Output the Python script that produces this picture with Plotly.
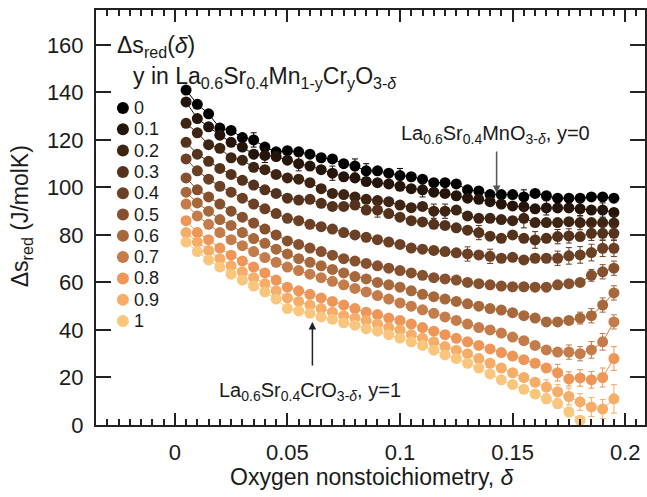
import plotly.graph_objects as go

# ---------------- data ----------------
delta = [0.005, 0.010, 0.015, 0.020, 0.025, 0.030, 0.035, 0.040, 0.045, 0.050,
         0.055, 0.060, 0.065, 0.070, 0.075, 0.080, 0.085, 0.090, 0.095, 0.100,
         0.105, 0.110, 0.115, 0.120, 0.125, 0.130, 0.135, 0.140, 0.145, 0.150,
         0.155, 0.160, 0.165, 0.170, 0.175, 0.180, 0.185, 0.190, 0.195]

cr_labels = ["0", "0.1", "0.2", "0.3", "0.4", "0.5", "0.6", "0.7", "0.8", "0.9", "1"]

ds_y00 = [141, 135, 131, 125, 124, 121, 120, 117, 115, 115.5,
          115, 114, 112.5, 112, 110, 109, 107, 107, 106, 105,
          104.5, 103.5, 102, 102, 101.5, 99, 98.5, 97, 97, 97,
          96, 97.5, 96.5, 95.5, 95.5, 95.5, 96, 96, 95.5]
ds_y01 = [136, 129, 125.5, 122, 119, 117, 114, 113.5, 113, 111.5,
          110, 109, 107.5, 106, 104.5, 104, 102.5, 102, 101.5, 100.5,
          99.5, 99, 98, 97.5, 96.5, 95.5, 95, 94, 93, 92.2,
          91.9, 91, 91.4, 91.4, 91.4, 91, 90.5, 90.5, 89.5]
ds_y02 = [127, 123, 118, 116.5, 112.5, 111.5, 108.5, 107.5, 105.5, 104,
          103.5, 102, 99.5, 97.5, 97, 96, 95, 94.5, 94, 92.6,
          91.5, 92, 90, 90, 90.5, 88, 87, 87, 86.5, 86,
          87, 85.2, 85.2, 85.2, 85.6, 85.2, 85.2, 85.2, 85]
ds_y03 = [119, 114, 111, 108, 105.5, 103, 101, 99, 97.5, 95.5,
          94.7, 95, 93.3, 92, 92, 92.6, 90.5, 90.5, 89, 87.5,
          86, 85.5, 84.5, 84, 83, 82, 81, 79.5, 78.6,
          80, 78.6, 77.9, 78.6, 79.3, 79.6, 79.3, 80.7, 80.7, 80.7]
ds_y04 = [112, 107, 103.5, 100.5, 98, 95.5, 93, 91, 89, 87,
          86, 84.5, 83.5, 82.5, 81, 80, 79, 78, 77, 76,
          74.5, 74, 73.5, 73, 72.5, 72, 71.6, 71, 70.2,
          70.6, 69.5, 70.2, 70.2, 70.2, 71.2, 71.6, 72.6, 74.4, 74.4]
ds_y05 = [104, 99, 96, 93, 90, 87.5, 85, 82.5, 80, 77.5,
          76, 74.5, 73, 71.5, 70, 69, 68, 67, 66, 65,
          64, 63, 62, 61.5, 61, 60, 59.5, 59, 58.5,
          58.2, 58.2, 58, 58, 59, 59.5, 60, 63, 64.5, 66]
ds_y06 = [98, 93.5, 90, 86.5, 84, 81, 78.5, 76.5, 74, 72,
          70, 68.5, 67, 65.5, 64, 62.5, 61.5, 60, 59, 58,
          56.5, 55, 54, 53, 52, 51, 50, 49, 48.4,
          47.3, 46, 45, 43.4, 43.4, 44, 45, 46, 50.5, 55.6]
ds_y07 = [93, 88, 84.5, 81, 78, 75.5, 73, 70.5, 68.5, 66.5,
          65, 63.5, 62, 60.5, 59, 57.5, 56, 54.5, 53, 51.4,
          50, 48.5, 47, 45.5, 44, 42.5, 41, 40, 38.7,
          37, 35.5, 33.5, 31.6, 30.7, 30.7, 30, 31.6, 35, 43.4]
ds_y08 = [86, 81, 78, 74.5, 71.5, 69, 66.5, 64, 61, 58,
          56.5, 55, 53.5, 52, 50.5, 49, 47.5, 46.5, 45, 44,
          42.5, 41, 39.5, 38, 36.5, 35, 33.5, 32, 30.5,
          29, 27.5, 26, 24, 22, 19.4, 19.8, 19, 20, 28]
ds_y09 = [81, 77, 73.5, 70, 67, 64.5, 62, 59.5, 56.5, 53.5,
          52, 50.5, 49, 47.5, 46, 45, 44, 42.5, 41, 40,
          38, 36.5, 35, 33, 31.5, 30, 28, 26, 24,
          22, 20, 18, 16, 14, 12, 9.7, 7.6, 6.7, 11]
ds_y10 = [77, 73, 69.5, 66.5, 63.5, 61, 58.5, 56, 53, 49,
          48, 47, 45.5, 44.5, 43, 42, 40.5, 39.5, 38, 36.6,
          35, 33.5, 31.5, 29.5, 28, 26, 24, 21.5, 19,
          17, 15, 13, 11, 9, 5.5, 2]

err_y00 = [1, 1, 1, 1, 1, 1, 3, 1, 1, 1, 1, 1, 1, 1, 1, 3, 3, 1, 1, 3,
           1, 1, 1, 1, 1, 1, 1, 1, 1, 1, 3, 1, 1, 1, 1, 1, 1, 1, 1]
err_y01 = [1, 1, 1, 1, 1, 1, 1, 3, 1, 1, 3, 1, 1, 3, 1, 1, 1, 1, 1, 1,
           1, 3, 1, 1, 1, 1, 1, 1, 1, 1, 1, 1, 3, 1, 1, 3, 1, 3, 1]
err_y02 = [1, 1, 1, 1, 1, 1, 1, 1, 1, 1, 1, 1, 1, 1, 1, 1, 1, 1, 1, 1,
           1, 1, 3, 3, 1, 1, 1, 1, 1, 1, 4, 1, 1, 1, 1, 3, 1, 1, 3]
err_y03 = [1, 1, 1, 1, 1, 1, 1, 1, 1, 1, 1, 1, 1, 1, 1, 1, 1, 3, 1, 1,
           1, 1, 1, 1, 1, 1, 3, 1, 1, 1, 1, 3.5, 1, 3, 3, 1, 3, 3, 3]
err_y04 = [1, 1, 1, 1, 1, 1, 1, 1, 1, 1, 1, 1, 1, 1, 1, 1, 1, 1, 1, 1,
           1, 1, 1, 1, 1, 3, 1, 3, 1, 1, 1, 1, 1, 3, 3.5, 3.5, 3.5, 3.5, 3.5]
err_y05 = [1, 1, 1, 1, 1, 1, 1, 1, 1, 1, 1, 1, 1, 1, 1, 1, 1, 1, 1, 1,
           1, 1, 1, 1, 1, 1, 1, 1, 1, 1, 1, 1, 1, 1, 1, 1, 2.5, 3, 3]
err_y06 = [1, 1, 1, 1, 1, 1, 1, 1, 1, 1, 1, 1, 1, 1, 1, 1, 1, 1, 1, 1,
           1, 1, 1, 1, 1, 1, 1, 1, 1, 1, 1, 1, 1, 1, 1, 2.5, 3, 3, 3]
err_y07 = [1, 1, 1, 1, 1, 1, 1, 1, 1, 1, 1, 1, 1, 1, 1, 1, 1, 1, 1, 1,
           1, 1, 1, 1, 1, 1, 1, 1, 1, 1, 1, 1, 1, 1, 3, 3, 3.5, 3.5, 3]
err_y08 = [1, 1, 1, 1, 1, 1, 1, 1, 1, 1, 1, 1, 1, 1, 1, 1, 1, 1, 1, 1,
           1, 1, 1, 1, 1, 1, 1, 1, 1, 1, 1, 1, 1, 3.5, 3, 3.5, 3.5, 4, 5]
err_y09 = [1, 1, 1, 1, 1, 1, 1, 1, 1, 1, 1, 1, 1, 1, 1, 1, 1, 1, 1, 1,
           1, 1, 1, 1, 1, 1, 1, 1, 1, 1, 1, 1, 3, 3, 3.5, 3.5, 4, 4, 6]
err_y10 = [1, 1, 1, 1, 1, 1, 1, 1, 1, 1, 1, 1, 1, 1, 1, 1, 1, 1, 1, 1,
           1, 1, 1, 1, 1, 1, 1, 1, 1, 1, 1, 1, 2, 2, 2, 1]

series = [ds_y00, ds_y01, ds_y02, ds_y03, ds_y04, ds_y05,
          ds_y06, ds_y07, ds_y08, ds_y09, ds_y10]
errors = [err_y00, err_y01, err_y02, err_y03, err_y04, err_y05,
          err_y06, err_y07, err_y08, err_y09, err_y10]

colors = ["#000000", "#24140a", "#3e2413", "#55321c", "#6b4025", "#86512e",
          "#a7683c", "#c37c4a", "#ee9558", "#f6ad68", "#fac67d"]

FONT = "Liberation Sans, Arial, sans-serif"
TXT = "#1a1a1a"

# ---------------- geometry helpers ----------------
W, H = 647, 497
ML, MT, MR, MB = 96, 10, 0, 72
PW, PH = W - ML - MR, H - MT - MB


def px_x(px):
    return (px - ML) / PW


def px_y(py):
    return (H - MB - py) / PH


fig = go.Figure()

for vals, errs, col, lab in zip(series, errors, colors, cr_labels):
    fig.add_trace(go.Scatter(
        x=delta[:len(vals)], y=vals,
        mode="lines+markers",
        name=lab,
        line=dict(color=col, width=1),
        marker=dict(color=col, size=11, line=dict(width=0)),
        error_y=dict(type="data", array=errs, visible=True,
                     color=col, thickness=1, width=3),
        showlegend=False,
    ))

annotations = []
shapes = []

# legend header
annotations.append(dict(
    text="Δs<sub>red</sub>(<i>δ</i>)", xref="paper", yref="paper",
    x=px_x(116), y=px_y(46), xanchor="left", yanchor="middle",
    showarrow=False, borderpad=0,
    font=dict(family=FONT, size=23, color=TXT)))
annotations.append(dict(
    text="y in La<sub>0.6</sub>Sr<sub>0.4</sub>Mn<sub>1-y</sub>Cr<sub>y</sub>O<sub>3-<i>δ</i></sub>",
    xref="paper", yref="paper",
    x=px_x(132), y=px_y(77), xanchor="left", yanchor="middle",
    showarrow=False, borderpad=0,
    font=dict(family=FONT, size=23, color=TXT)))

for i, (col, lab) in enumerate(zip(colors, cr_labels)):
    cy = 108 + 21.3 * i
    shapes.append(dict(
        type="circle", xref="paper", yref="paper",
        xsizemode="pixel", ysizemode="pixel",
        xanchor=px_x(123), yanchor=px_y(cy),
        x0=-6, x1=6, y0=-6, y1=6,
        fillcolor=col, line=dict(width=0)))
    annotations.append(dict(
        text=lab, xref="paper", yref="paper",
        x=px_x(133), y=px_y(cy), xanchor="left", yanchor="middle",
        borderpad=0,
        showarrow=False, font=dict(family=FONT, size=18, color=TXT)))

# compound labels with arrows
annotations.append(dict(
    text="La<sub>0.6</sub>Sr<sub>0.4</sub>MnO<sub>3-<i>δ</i></sub>, y=0",
    xref="paper", yref="paper", x=px_x(497), y=px_y(134),
    xanchor="center", yanchor="middle", showarrow=False,
    font=dict(family=FONT, size=20, color=TXT)))
annotations.append(dict(
    text="", x=0.1429, y=97.7, xref="x", yref="y",
    showarrow=True, ax=0, ay=-43, arrowhead=2, arrowsize=1,
    arrowwidth=1.5, arrowcolor="#555555", standoff=0))
annotations.append(dict(
    text="La<sub>0.6</sub>Sr<sub>0.4</sub>CrO<sub>3-<i>δ</i></sub>, y=1",
    xref="paper", yref="paper", x=px_x(311), y=px_y(391),
    xanchor="center", yanchor="middle", showarrow=False,
    font=dict(family=FONT, size=20, color=TXT)))
annotations.append(dict(
    text="", x=0.0611, y=43.4, xref="x", yref="y",
    showarrow=True, ax=0, ay=45, arrowhead=2, arrowsize=1,
    arrowwidth=1.5, arrowcolor="#222222", standoff=0))

# axis titles
annotations.append(dict(
    text="Oxygen nonstoichiometry, <i>δ</i>", xref="paper", yref="paper",
    x=px_x(373), y=px_y(477), xanchor="center", yanchor="middle",
    showarrow=False, font=dict(family=FONT, size=23, color=TXT)))
annotations.append(dict(
    text="Δs<sub>red</sub> (J/molK)", xref="paper", yref="paper",
    x=px_x(21), y=px_y(216), xanchor="center", yanchor="middle",
    textangle=-90, showarrow=False,
    font=dict(family=FONT, size=23, color=TXT)))

x_ticks = [0, 0.05, 0.1, 0.15, 0.2]
x_ticktext = ["0", "0.05", "0.1", "0.15", "0.2"]
y_ticks = [0, 20, 40, 60, 80, 100, 120, 140, 160]

fig.update_layout(
    width=W, height=H,
    margin=dict(l=ML, r=MR, t=MT, b=MB, pad=0),
    paper_bgcolor="white", plot_bgcolor="white",
    font=dict(family=FONT, size=22, color=TXT),
    annotations=annotations, shapes=shapes,
    xaxis=dict(
        range=[-0.035, 0.2088], showgrid=False, zeroline=False,
        showline=True, linecolor="#222222", linewidth=2, mirror="ticks",
        ticks="inside", ticklen=12, tickwidth=2, tickcolor="#222222",
        tickvals=x_ticks, ticktext=x_ticktext, ticklabelstandoff=7,
        minor=dict(ticks="inside", ticklen=6, tickwidth=1.5,
                   tickcolor="#222222", dtick=0.005, tick0=0),
        tickfont=dict(family=FONT, size=22, color=TXT),
    ),
    yaxis=dict(
        range=[0, 174.7], showgrid=False, zeroline=False,
        showline=True, linecolor="#222222", linewidth=2, mirror="ticks",
        ticks="inside", ticklen=15, tickwidth=2, tickcolor="#222222",
        tickvals=y_ticks, ticklabelstandoff=6,
        tickfont=dict(family=FONT, size=22, color=TXT),
    ),
)

fig.write_html("out.html")
